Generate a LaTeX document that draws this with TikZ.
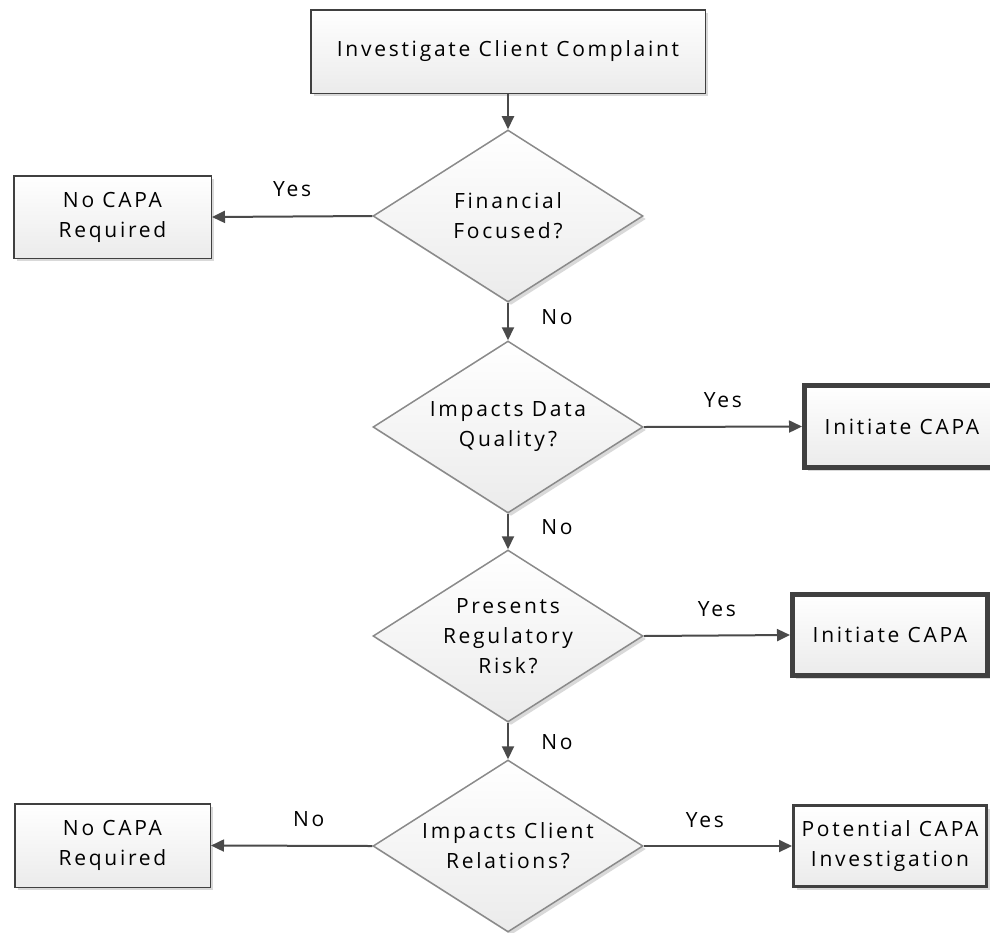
\documentclass[tikz,border=0pt]{standalone}
\usepackage{fontspec}
\setmainfont{Open Sans}[LetterSpace=13]
\usetikzlibrary{shapes.geometric,arrows.meta,shadows}
\definecolor{edgedark}{HTML}{404040}
\definecolor{edgegray}{HTML}{8A8A8A}
\definecolor{linecol}{HTML}{4A4A4A}
\definecolor{fillbot}{HTML}{EBEBEB}
\begin{document}
\begin{tikzpicture}[x=1pt, y=-1pt, font=\fontsize{21}{30}\selectfont,
  shade/.style={drop shadow={shadow xshift=3pt, shadow yshift=-3pt, fill=black, opacity=0.15}},
  sbox/.style={rectangle, draw=edgedark, line width=1.5pt, top color=white, bottom color=fillbot, shade, align=center, inner sep=0pt},
  thickbox/.style={sbox, line width=5pt},
  midbox/.style={sbox, line width=3pt},
  decision/.style={diamond, draw=edgegray, line width=1.5pt, top color=white, bottom color=fillbot, shade, inner sep=0pt, minimum width=270pt, minimum height=172pt},
  txt/.style={align=center, inner sep=0pt},
  conn/.style={draw=linecol, line width=2pt, -{Triangle[length=13pt,width=12pt]}},
  lbl/.style={inner sep=0pt}]
\useasboundingbox (0,0) rectangle (990,932);

% process boxes
\node[sbox, minimum width=394.5pt, minimum height=83.5pt] (start) at (508,51.5) {Investigate Client Complaint};
\node[sbox, minimum width=197.5pt, minimum height=82.5pt] (nocapa1) at (112.5,217) {No CAPA\\Required};
\node[thickbox, minimum width=195pt, minimum height=82pt] (init1) at (902,426.5) {Initiate CAPA};
\node[thickbox, minimum width=195pt, minimum height=81pt] (init2) at (890,635) {Initiate CAPA};
\node[sbox, minimum width=195.5pt, minimum height=83.5pt] (nocapa2) at (112.5,845.5) {No CAPA\\Required};
\node[midbox, minimum width=193pt, minimum height=81pt] (potential) at (890,846) {Potential CAPA\\Investigation};

% decisions
\node[decision] (d1) at (508,216) {};
\node[txt] (t1) at (d1) {Financial\\Focused?};
\node[decision] (d2) at (508,427) {};
\node[txt] (t2) at (d2) {Impacts Data\\Quality?};
\node[decision] (d3) at (508,636) {};
\node[txt] (t3) at (d3) {Presents\\Regulatory\\Risk?};
\node[decision] (d4) at (508,846) {};
\node[txt] (t4) at (d4) {Impacts Client\\Relations?};

% connectors
\draw[conn] (start) -- (d1);
\draw[conn] (d1.west) -- node[lbl, midway, yshift=27pt] {Yes} (nocapa1.east);
\draw[conn] (d1.south) -- node[lbl, midway, xshift=49pt, yshift=4pt] {No} (d2.north);
\draw[conn] (d2.east) -- node[lbl, midway, yshift=27pt] {Yes} (init1.west);
\draw[conn] (d2.south) -- node[lbl, midway, xshift=49pt, yshift=4pt] {No} (d3.north);
\draw[conn] (d3.east) -- node[lbl, midway, yshift=26pt] {Yes} (init2.west);
\draw[conn] (d3.south) -- node[lbl, midway, xshift=49pt, yshift=-1pt] {No} (d4.north);
\draw[conn] (d4.west) -- node[lbl, midway, xshift=17pt, yshift=27pt] {No} (nocapa2.east);
\draw[conn] (d4.east) -- node[lbl, midway, xshift=-13pt, yshift=26pt] {Yes} (potential.west);
\end{tikzpicture}
\end{document}
